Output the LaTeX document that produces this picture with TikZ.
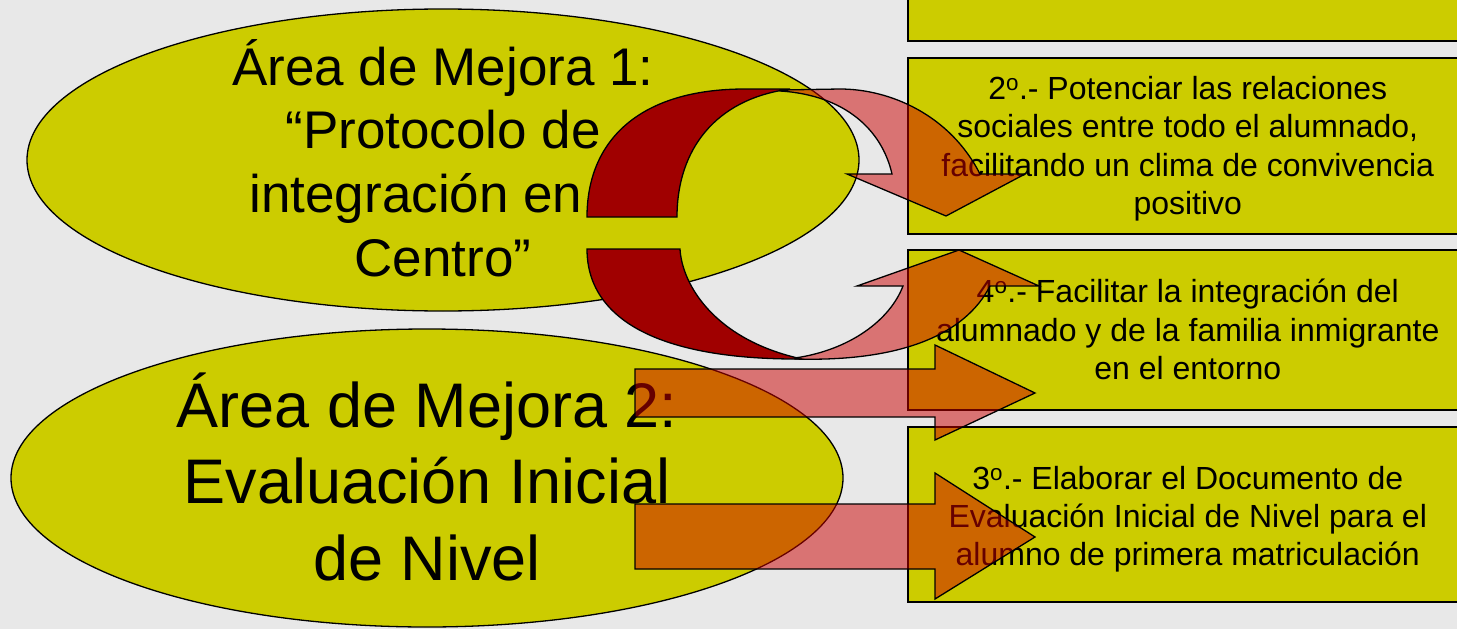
\documentclass[tikz,border=0pt]{standalone}
\usepackage{fontspec}
\setmainfont{Liberation Sans}
\usetikzlibrary{shapes.geometric}
\definecolor{oliva}{HTML}{CCCC00}
\definecolor{granate}{HTML}{A00000}
\definecolor{rojo}{HTML}{CC0000}
\definecolor{fondo}{HTML}{E8E8E8}

\begin{document}
\begin{tikzpicture}[x=1pt,y=-1pt]

	\tikzstyle{area} = [ellipse,draw=black,line width=1.3pt,fill=oliva,inner sep=0pt,minimum width=832pt,minimum height=302pt]
	\tikzstyle{areatexto} = [align=center,anchor=base,inner sep=0pt]
	\tikzstyle{objetivo} = [rectangle,draw=black,line width=1.5pt,fill=oliva,anchor=north west,minimum width=560pt,align=center,inner sep=0pt,font=\fontsize{32}{38.4}\selectfont]
	\tikzstyle{curva} = [draw=black,line width=1.3pt,fill=granate]
	\tikzstyle{flecha} = [draw=black,line width=1.3pt,fill=rojo,fill opacity=0.5]

	\useasboundingbox (0,0) rectangle (1457,629);
	\fill[fondo] (0,0) rectangle (1457,629);

	% areas de mejora
	\node[area] (mejora1) at (443,160) {};
	\node[area,minimum height=298pt] (mejora2) at (427,478) {};
	\node[areatexto,font=\fontsize{53}{63.6}\selectfont] (texto1) at (443,276) {Área de Mejora 1:\\“Protocolo de\\integración en\rule{54pt}{0pt}\\Centro”};
	\node[areatexto,font=\fontsize{63}{76.5}\selectfont] (texto2) at (427,580) {Área de Mejora 2:\\Evaluación Inicial\\de Nivel};

	% objetivos
	\node[objetivo,minimum height=170pt] (obj1) at (907,-130) {};
	\node[objetivo,minimum height=176pt] (obj2) at (907,57) {\rule{0pt}{29pt}2\textsuperscript{o}.- Potenciar las relaciones\\sociales entre todo el alumnado,\\facilitando un clima de convivencia\\positivo};
	\node[objetivo,minimum height=160pt] (obj4) at (907,249) {4\textsuperscript{o}.- Facilitar la integración del\\alumnado y de la familia inmigrante\\en el entorno};
	\node[objetivo,minimum height=175pt] (obj3) at (907,426) {\rule{0pt}{33pt}3\textsuperscript{o}.- Elaborar el Documento de\\Evaluación Inicial de Nivel para el\\alumno de primera matriculación};

	% flecha curva hacia el 2o
	\draw[curva] (587,217) .. controls (587,140) and (640,89) .. (745,89) -- (790,89) .. controls (715,99) and (677,150) .. (677,217) -- cycle;
	\draw[flecha] (780,90) -- (840,89) .. controls (890,89) and (950,115) .. (980,174) -- (1025,174) -- (946,216) -- (847,174) -- (892,174) .. controls (882,130) and (845,95) .. (780,91) -- cycle;

	% flecha curva hacia el 4o
	\draw[curva] (587,249) .. controls (587,320) and (660,360) .. (802,359) .. controls (715,340) and (682,285) .. (680,249) -- cycle;
	\draw[flecha] (795,359) .. controls (900,362) and (965,335) .. (990,286) -- (1039,286) -- (959,250) -- (857,286) -- (903,286) .. controls (890,320) and (850,350) .. (795,358) -- cycle;

	% flechas rectas
	\draw[flecha] (635,369) -- (935,369) -- (935,345) -- (1035,393) -- (935,440) -- (935,417) -- (635,417) -- cycle;
	\draw[flecha] (635,504) -- (935,504) -- (935,473) -- (1035,537) -- (935,599) -- (935,569) -- (635,569) -- cycle;

\end{tikzpicture}
\end{document}
